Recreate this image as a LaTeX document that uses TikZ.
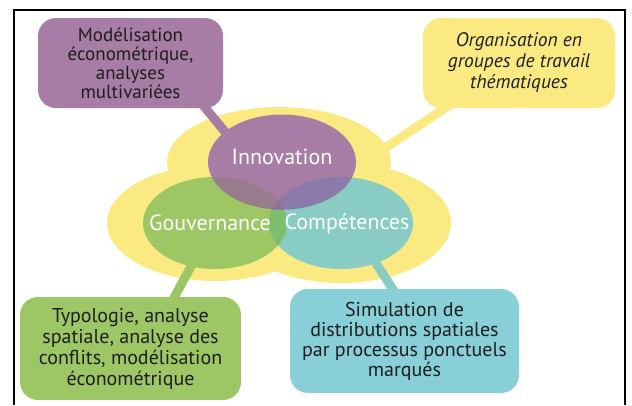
\documentclass[tikz,border=0pt]{standalone}
\usepackage{fontspec}
\setmainfont{PT Sans}
\usetikzlibrary{positioning, shapes, backgrounds}
\definecolor{cloudcol}{RGB}{251,234,130}
\definecolor{innovcol}{RGB}{167,125,165}
\definecolor{gouvcol}{RGB}{157,198,100}
\definecolor{compcol}{RGB}{136,204,196}
\definecolor{simcol}{RGB}{136,207,216}
\definecolor{gcovl}{RGB}{125,190,108}
\definecolor{igovl}{RGB}{152,124,140}
\definecolor{icovl}{RGB}{140,122,170}
\definecolor{igcovl}{RGB}{138,116,146}
\definecolor{txtcol}{RGB}{30,30,30}

\begin{document}
\begin{tikzpicture}[x=1pt, y=-1pt,
  box/.style={rounded corners=18pt, inner sep=0pt, align=center, text=txtcol, font=\fontsize{20}{21}\selectfont},
  blob/.style={ellipse, inner sep=0pt},
  blobtext/.style={text=white, inner sep=0pt, font=\fontsize{22}{24}\selectfont},
  lobe/.style={ellipse, fill=cloudcol, inner sep=0pt},
  link/.style={line width=9pt, shorten <=-6pt, shorten >=-6pt}]
  \useasboundingbox (0,0) rectangle (632,405);

  % yellow cloud behind the three circles
  \begin{pgfonlayer}{background}
    \node[lobe, minimum width=224, minimum height=110] (cloudtop) at (279,162) {};
    \node[lobe, minimum width=216, minimum height=116] (cloudleft) at (215,223) {};
    \node[lobe, minimum width=220, minimum height=120] (cloudright) at (341,223) {};
  \end{pgfonlayer}

  \node[blob, fill=gouvcol, minimum width=144, minimum height=92] (gouv) at (215,223) {};
  \node[blob, fill=compcol, minimum width=144, minimum height=92,
    path picture={\fill[gcovl] (gouv.center) ellipse [x radius=72, y radius=46];}] (comp) at (341,223) {};
  \node[blob, fill=innovcol, minimum width=148, minimum height=95,
    path picture={
      \fill[igovl] (gouv.center) ellipse [x radius=72, y radius=46];
      \fill[icovl] (comp.center) ellipse [x radius=72, y radius=46];
      \begin{scope}
        \clip (gouv.center) ellipse [x radius=72, y radius=46];
        \fill[igcovl] (comp.center) ellipse [x radius=72, y radius=46];
      \end{scope}}] (innov) at (282,162) {};
  \node[blobtext] (innovtxt) at ([yshift=5pt]innov.center) {Innovation};
  \node[blobtext] (gouvtxt) at ([xshift=-5pt]gouv.center) {Gouvernance};
  \node[blobtext] (comptxt) at ([xshift=6pt,yshift=-1pt]comp.center) {Compétences};

  \node[box, fill=innovcol, minimum width=185, minimum height=90, font=\fontsize{19}{19}\selectfont] (methods) at (130.5,63)
    {Modélisation\\économétrique,\\analyses\\multivariées};
  \node[box, fill=cloudcol, minimum width=192, minimum height=90, font=\fontsize{19.5}{21}\itshape] (groups) at (519,63)
    {Organisation en\\groupes de travail\\thématiques};
  \node[box, fill=gouvcol, minimum width=221, minimum height=103] (typo) at (130.5,348.5)
    {Typologie, analyse\\spatiale, analyse des\\conflits, modélisation\\économétrique};
  \node[box, fill=simcol, minimum width=229, minimum height=104, font=\fontsize{20}{20}\selectfont] (simu) at (404.5,341)
    {Simulation de\\distributions spatiales\\par processus ponctuels\\marqués};

  \begin{pgfonlayer}{background}
    \path[link]
      ([xshift=75pt]methods.south) edge[draw=innovcol] (innov.152)
      ([xshift=-74pt]groups.south) edge[draw=cloudcol] (cloudtop.8)
      ([xshift=44pt]typo.north) edge[draw=gouvcol] (gouv.-119)
      ([xshift=-12pt]simu.north) edge[draw=compcol] (comp.-49);
  \end{pgfonlayer}

  \draw[line width=2pt] (14,405) |- (625,10) -- (625,405);
\end{tikzpicture}
\end{document}
